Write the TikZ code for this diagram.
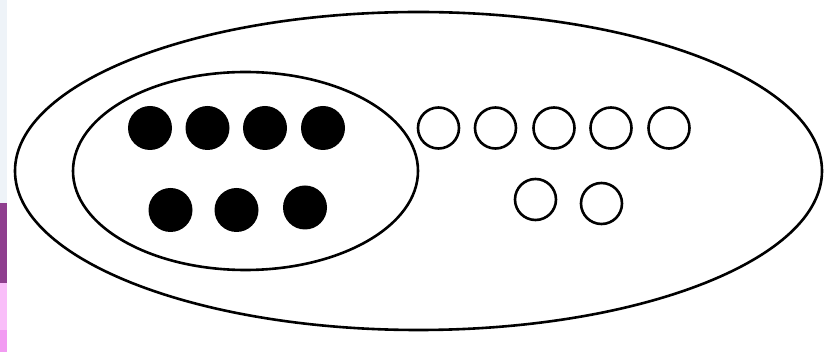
\documentclass[tikz,border=0pt]{standalone}
\begin{document}
\begin{tikzpicture}[x=1pt,y=-1pt,
  line width=2.6pt,
  filled/.style={circle,fill=black,draw=none,minimum size=44pt,inner sep=0pt},
  hollow/.style={circle,draw=black,line width=2.6pt,fill=none,minimum size=41pt,inner sep=0pt}]
\useasboundingbox (0,0) rectangle (828,352);
\fill[white] (0,0) rectangle (828,352);
% left edge strip
\fill[color={rgb,255:red,238;green,243;blue,248}] (0,0) rectangle (7,203);
\fill[color={rgb,255:red,142;green,62;blue,142}] (0,203) rectangle (7,283);
\fill[color={rgb,255:red,249;green,190;blue,249}] (0,283) rectangle (7,330);
\fill[color={rgb,255:red,242;green,155;blue,242}] (0,330) rectangle (7,352);
% ellipses
\draw (418.5,171) ellipse [x radius=403.5, y radius=159];
\draw (245.5,171) ellipse [x radius=172.5, y radius=99];
% filled dots
\node[filled] (b1) at (150,128) {};
\node[filled] (b2) at (207.5,128) {};
\node[filled] (b3) at (265,128) {};
\node[filled] (b4) at (323,128) {};
\node[filled] (b5) at (170.5,210) {};
\node[filled] (b6) at (236.5,210) {};
\node[filled] (b7) at (305,207.5) {};
% hollow circles
\node[hollow] (w1) at (438.5,128) {};
\node[hollow] (w2) at (495.5,128) {};
\node[hollow] (w3) at (554,128) {};
\node[hollow] (w4) at (611,128) {};
\node[hollow] (w5) at (669,128) {};
\node[hollow] (w6) at (535.5,199.5) {};
\node[hollow] (w7) at (601.5,203.5) {};
\end{tikzpicture}
\end{document}
